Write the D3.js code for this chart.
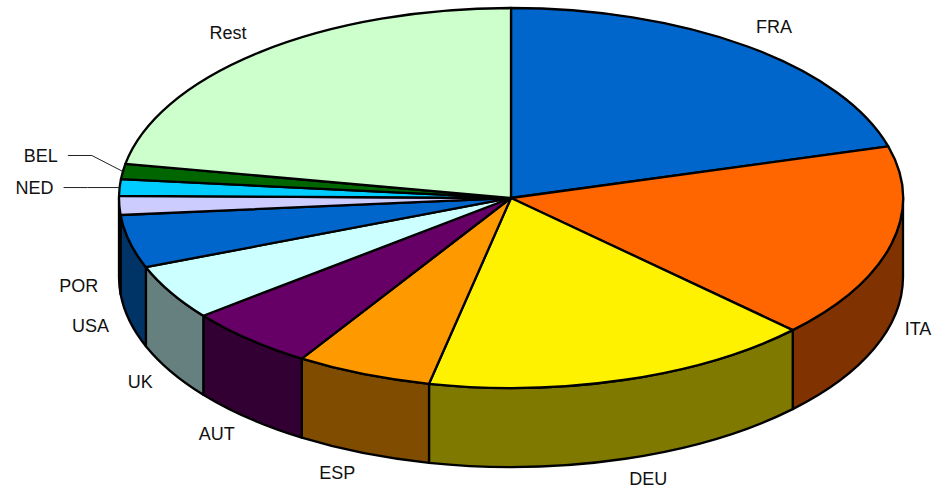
<!DOCTYPE html>
<html>
<head>
<meta charset="utf-8">
<script src="https://cdn.jsdelivr.net/npm/d3@7"></script>
<style>
  body { margin: 0; background: #fff; }
  text { font-family: "Liberation Sans", Arial, sans-serif; font-size: 18px; fill: #111; }
</style>
</head>
<body>
<svg id="chart" width="934" height="489"></svg>
<script>
// slice data, clockwise from 12 o'clock
const countries = ["FRA", "ITA", "DEU", "ESP", "AUT", "UK", "USA", "POR", "NED", "BEL", "Rest"];
const shares = [20.6, 16.6, 16.1, 5.6, 5.4, 4.7, 4.5, 1.6, 1.4, 1.3, 22.1];
const colors = ["#0066CC", "#FF6600", "#FFF200", "#FF9900", "#660066", "#CCFFFF",
                "#0066CC", "#CCCCFF", "#00CCFF", "#006600", "#CCFFCC"];

// labels that were dragged off with a leader line (offset of line start from rim)
const callouts = { BEL: [-55, -16], NED: [-56, 0] };

const cx = 511, cy = 198, rx = 392, ry = 190, depth = 79;

const svg = d3.select('#chart');

const data = countries.map((c, i) => ({ name: c, value: shares[i], color: colors[i] }));
const arcs = d3.pie().sort(null).value(d => d.value)(data);

// point on the top ellipse, angle a clockwise from 12 o'clock
const pt = (a, dy = 0) => [cx + rx * Math.sin(a), cy - ry * Math.cos(a) + dy];
const half = c => { let k = d3.rgb(c); return d3.rgb(k.r * 0.5, k.g * 0.5, k.b * 0.5).toString(); };

// front walls (3 o'clock -> 9 o'clock)
let walls = svg.append('g');
arcs.forEach(d => {
  let s = Math.max(d.startAngle, Math.PI / 2);
  let e = Math.min(d.endAngle, 3 * Math.PI / 2);
  if (e <= s) return;
  let p0 = pt(s), p1 = pt(e), q0 = pt(s, depth), q1 = pt(e, depth);
  let path = `M${p0}A${rx},${ry} 0 0 1 ${p1}L${q1}A${rx},${ry} 0 0 0 ${q0}Z`;
  walls.append('path')
    .attr('d', path)
    .attr('fill', half(d.data.color))
    .attr('stroke', '#000')
    .attr('stroke-width', 2.3)
    .attr('stroke-linejoin', 'round');
});

// top faces
let tops = svg.append('g');
arcs.forEach(d => {
  let p0 = pt(d.startAngle), p1 = pt(d.endAngle);
  let large = d.endAngle - d.startAngle > Math.PI ? 1 : 0;
  tops.append('path')
    .attr('d', `M${cx},${cy}L${p0}A${rx},${ry} 0 ${large} 1 ${p1}Z`)
    .attr('fill', d.data.color)
    .attr('stroke', '#000')
    .attr('stroke-width', 2.3)
    .attr('stroke-linejoin', 'round');
});

// labels
let labels = svg.append('g');
arcs.forEach(d => {
  let mid = (d.startAngle + d.endAngle) / 2;
  let name = d.data.name;
  if (callouts[name]) {
    let rim = pt(mid);
    let off = callouts[name];
    let start = [rim[0] + off[0], rim[1] + off[1]];
    let elbow = [start[0] + 24, start[1]];
    labels.append('path')
      .attr('d', `M${start}L${elbow}L${rim}`)
      .attr('fill', 'none')
      .attr('stroke', '#222')
      .attr('stroke-width', 1);
    labels.append('text')
      .attr('x', start[0] - 10)
      .attr('y', start[1])
      .attr('dy', '0.35em')
      .attr('text-anchor', 'end')
      .text(name);
    return;
  }
  let sx = Math.sin(mid), cyy = Math.cos(mid);
  let x = cx + (rx + (sx >= 0 ? 14 : 21)) * sx;
  let y = cy - (ry + (cyy < 0 ? 21 : 25)) * cyy + (cyy < 0 ? depth : 0);
  labels.append('text')
    .attr('x', x)
    .attr('y', y)
    .attr('dy', '0.35em')
    .attr('text-anchor', sx >= 0 ? 'start' : 'end')
    .text(name);
});
</script>
</body>
</html>
